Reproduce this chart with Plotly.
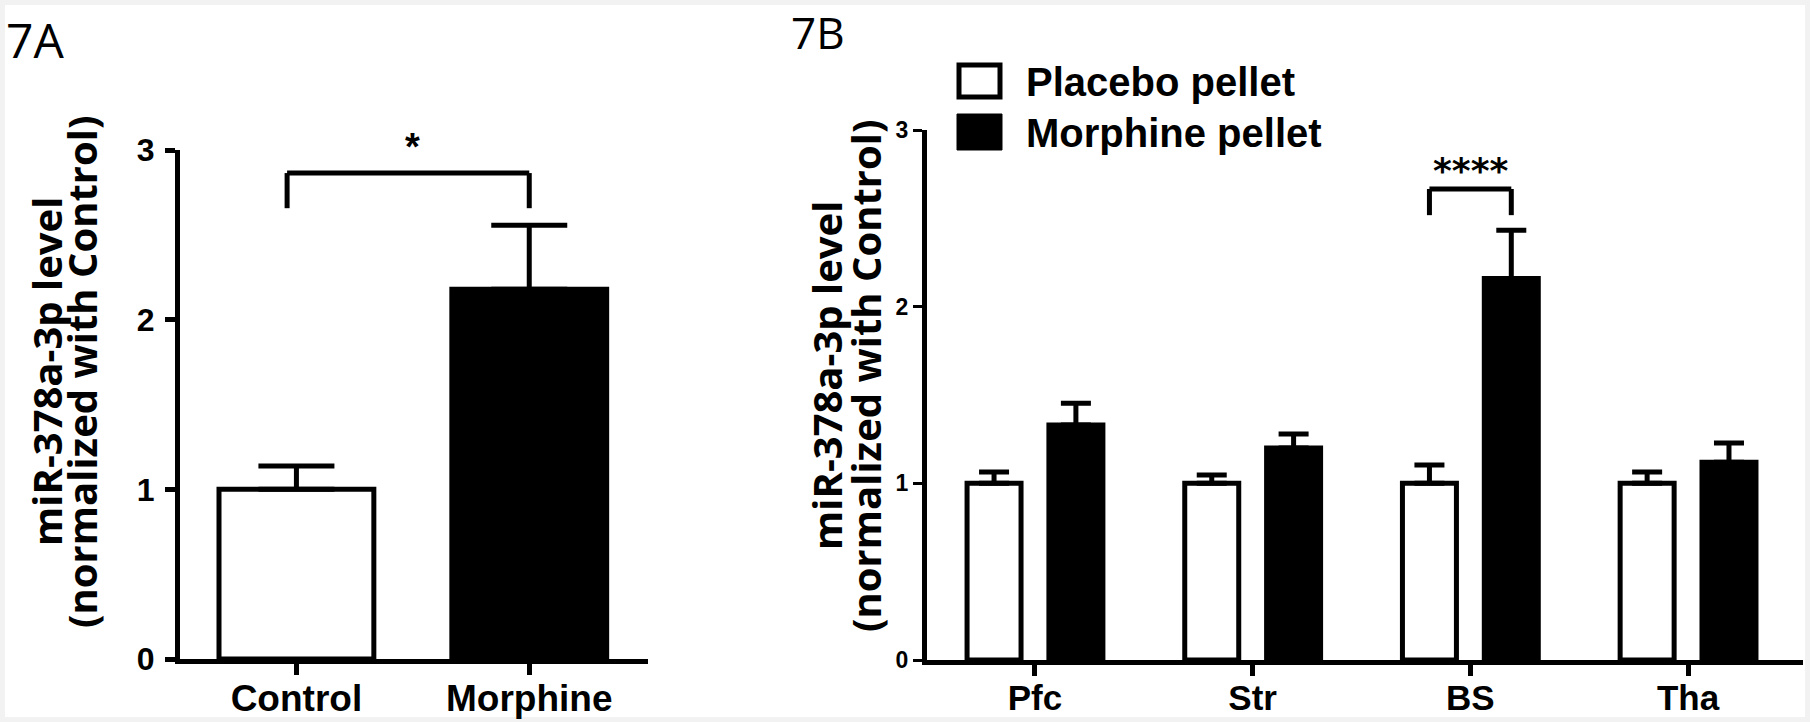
import plotly.graph_objects as go

# panel 7A
groups_a = ["Control", "Morphine"]
mean_a = [1.0, 2.18]
sem_a = [0.137, 0.377]

# panel 7B
regions = ["Pfc", "Str", "BS", "Tha"]
placebo_mean = [1.0, 1.0, 1.0, 1.0]
placebo_sem = [0.064, 0.047, 0.104, 0.064]
morphine_mean = [1.33, 1.20, 2.16, 1.12]
morphine_sem = [0.124, 0.079, 0.272, 0.108]

# significance brackets: (top, leg bottom)
bracket_a = (2.864, 2.657)
bracket_b = (2.666, 2.518)

W, H = 1810, 722
FONT = "Liberation Sans, Arial"


def px(x):
    return x / W


def py(y):
    return 1 - y / H


black = "black"
fig = go.Figure()

fig.add_trace(go.Bar(
    x=groups_a, y=mean_a, width=0.665,
    marker=dict(color=["white", black], line=dict(color=black, width=5)),
    error_y=dict(type="data", array=sem_a, arrayminus=[0] * len(sem_a),
                 symmetric=False, thickness=5, width=38, color=black),
    xaxis="x", yaxis="y", showlegend=False))

bw = 0.248
shift = 0.188
fig.add_trace(go.Bar(
    x=regions, y=placebo_mean, width=bw, offset=-shift - bw / 2,
    marker=dict(color="white", line=dict(color=black, width=5)),
    error_y=dict(type="data", array=placebo_sem, arrayminus=[0] * 4,
                 symmetric=False, thickness=5, width=15, color=black),
    xaxis="x2", yaxis="y2", showlegend=False))
fig.add_trace(go.Bar(
    x=regions, y=morphine_mean, width=bw, offset=shift - bw / 2,
    marker=dict(color=black, line=dict(color=black, width=5)),
    error_y=dict(type="data", array=morphine_sem, arrayminus=[0] * 4,
                 symmetric=False, thickness=5, width=15, color=black),
    xaxis="x2", yaxis="y2", showlegend=False))

shapes = [dict(type="rect", xref="paper", yref="paper", x0=px(5), x1=px(1805),
               y0=py(717), y1=py(5), fillcolor="white", line=dict(width=0),
               layer="below")]


def bracket(xref, yref, xl, xr, top, bottom):
    out = []
    for x0, y0, x1, y1 in [(xl, bottom, xl, top), (xl, top, xr, top), (xr, top, xr, bottom)]:
        out.append(dict(type="line", xref=xref, yref=yref, x0=x0, y0=y0, x1=x1, y1=y1,
                        line=dict(color=black, width=5)))
    return out


shapes += bracket("x", "y", -0.04, 1.0, *bracket_a)
bs = regions.index("BS")
shapes += bracket("x2", "y2", bs - shift, bs + shift, *bracket_b)

# legend boxes
shapes.append(dict(type="rect", xref="paper", yref="paper", x0=px(959), x1=px(1000),
                   y0=py(97), y1=py(65), fillcolor="white", line=dict(color=black, width=5)))
shapes.append(dict(type="rect", xref="paper", yref="paper", x0=px(957), x1=px(1002),
                   y0=py(150), y1=py(114), fillcolor=black, line=dict(color=black, width=1)))

label_family = "Liberation Sans Narrow, Open Sans"
annotations = [
    dict(text="7A", x=px(4), y=py(39), xref="paper", yref="paper", xanchor="left",
         yanchor="middle", showarrow=False, font=dict(family=label_family, size=48, color=black)),
    dict(text="7B", x=px(789), y=1.0, xref="paper", yref="paper", xanchor="left",
         yanchor="top", showarrow=False, font=dict(family=label_family, size=44, color=black)),
    dict(text="*", x=0.5, y=2.88, xref="x", yref="y", yanchor="bottom", showarrow=False,
         font=dict(family=FONT, size=38, color=black, weight="bold")),
    dict(text="****", x=bs, y=2.645, xref="x2", yref="y2", yanchor="bottom", showarrow=False,
         font=dict(family="DejaVu Sans", size=36, color=black, weight="bold")),
    dict(text="Placebo pellet", x=px(1024), y=py(82), xref="paper", yref="paper",
         xanchor="left", yanchor="middle", showarrow=False,
         font=dict(family=FONT, size=40, color=black, weight="bold")),
    dict(text="Morphine pellet", x=px(1024), y=py(133), xref="paper", yref="paper",
         xanchor="left", yanchor="middle", showarrow=False,
         font=dict(family=FONT, size=40, color=black, weight="bold")),
]

# y-axis titles, one annotation per line so the line spacing can match
title_lines = ["miR-378a-3p level", "(normalized with Control)"]
for xs, ymid in [((46, 81), 372), ((826, 865), 376)]:
    for xpos, line in zip(xs, title_lines):
        annotations.append(dict(text=line, x=px(xpos), y=py(ymid), xref="paper", yref="paper",
                                textangle=-90, xanchor="center", yanchor="middle",
                                showarrow=False,
                                font=dict(family="Open Sans", size=40, color=black, weight="bold")))

axis_common = dict(showline=True, linecolor=black, linewidth=5, showgrid=False,
                   zeroline=False, ticks="outside", tickcolor=black, automargin=False)

fig.update_layout(
    width=W, height=H,
    margin=dict(l=0, r=0, t=0, b=0),
    paper_bgcolor="#f2f2f2", plot_bgcolor="white",
    barmode="overlay", showlegend=False,
    xaxis=dict(domain=[px(180), px(648)], range=[-0.5, 1.51], anchor="y",
               ticklen=11, tickwidth=5, ticklabelstandoff=-8,
               tickfont=dict(family=FONT, size=37, color=black, weight="bold"),
               **axis_common),
    yaxis=dict(domain=[py(659), py(150)], range=[0, 3], anchor="x", tickvals=[0, 1, 2, 3],
               ticklen=10, tickwidth=5, ticklabelstandoff=4,
               tickfont=dict(family=FONT, size=32, color=black, weight="bold"), **axis_common),
    xaxis2=dict(domain=[px(927), px(1803)], range=[-0.496, 3.528], anchor="y2",
                ticklen=11, tickwidth=5, ticklabelstandoff=-8,
                tickfont=dict(family=FONT, size=35, color=black, weight="bold"),
                **axis_common),
    yaxis2=dict(domain=[py(660), py(130)], range=[0, 3], anchor="x2", tickvals=[0, 1, 2, 3],
                ticklen=9, tickwidth=3, ticklabelstandoff=0,
                tickfont=dict(family=FONT, size=23, color=black, weight="bold"), **axis_common),
    shapes=shapes, annotations=annotations,
)

# the page's default 8px body margin would shift the 1810x722 figure off the window
fig.write_html("out.html", config={"displayModeBar": False},
               post_script="document.body.style.margin='0';")
